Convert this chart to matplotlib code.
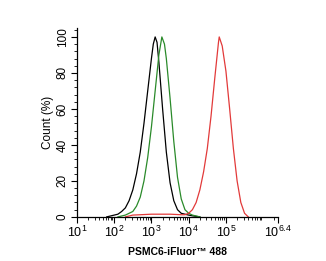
import matplotlib
matplotlib.use("Agg")
import matplotlib.pyplot as plt
from matplotlib.ticker import MultipleLocator, LogLocator

plt.rcParams['font.family'] = ['Liberation Sans', 'DejaVu Sans']
plt.rcParams['mathtext.default'] = 'regular'

# fluorescence (log10) vs count (%)
black_x = [1.8, 1.9, 2.0, 2.1, 2.2, 2.3, 2.4, 2.5, 2.6, 2.7, 2.8, 2.9, 3.0, 3.05, 3.1,
           3.15, 3.2, 3.3, 3.4, 3.5, 3.6, 3.7, 3.8, 3.9, 4.0, 4.1, 4.2, 4.3]
black_y = [0, 0.5, 1, 1.5, 3, 5, 9, 15, 24, 36, 52, 70, 88, 96, 100,
           97, 86, 60, 36, 19, 9, 4, 2, 1.5, 1, 0.6, 0.3, 0]

green_x = [2.1, 2.2, 2.3, 2.4, 2.5, 2.6, 2.7, 2.8, 2.9, 3.0, 3.1, 3.2, 3.28, 3.35,
           3.4, 3.5, 3.6, 3.7, 3.8, 3.9, 4.0, 4.1, 4.2, 4.3]
green_y = [0, 0.5, 1, 2, 3, 6, 11, 20, 33, 50, 70, 90, 100, 96,
           88, 66, 42, 22, 10, 4, 2, 1, 0.5, 0]

red_x = [2.3, 2.5, 3.0, 3.5, 3.8, 3.9, 4.0, 4.1, 4.2, 4.3, 4.4, 4.5, 4.6, 4.7,
         4.8, 4.82, 4.9, 5.0, 5.1, 5.2, 5.3, 5.4, 5.5, 5.6]
red_y = [0, 1, 1.5, 1.5, 1.2, 1.2, 2, 4, 8, 15, 25, 38, 56, 77,
         97, 100, 95, 81, 60, 38, 20, 8, 2, 0]

xtick_pow = [1, 2, 3, 4, 5, 6.4]
xtick_labels = ['$10^{1}$', '$10^{2}$', '$10^{3}$', '$10^{4}$', '$10^{5}$', '$10^{6.4}$']

fig = plt.figure(figsize=(3.26, 2.61), dpi=100)
ax = fig.add_axes([0.236, 0.169, 0.617, 0.724])

ax.plot([10 ** v for v in black_x], black_y, color='black', lw=0.9)
ax.plot([10 ** v for v in green_x], green_y, color='#2a8a2a', lw=0.9)
ax.plot([10 ** v for v in red_x], red_y, color='#e23a3a', lw=0.9)

ax.set_xscale('log')
ax.set_xlim(10, 10 ** 6.4)
ax.set_ylim(0, 105)
ax.set_xticks([10 ** p for p in xtick_pow])
ax.set_xticklabels(xtick_labels, fontsize=9)
ax.xaxis.set_minor_locator(LogLocator(base=10, subs=range(2, 10), numticks=20))
ax.xaxis.set_minor_formatter(plt.NullFormatter())
ax.set_yticks([0, 20, 40, 60, 80, 100])
ax.yaxis.set_minor_locator(MultipleLocator(4))
for lab in ax.get_yticklabels():
    lab.set_rotation(90)
    lab.set_va('center')
    lab.set_fontsize(8.5)

ax.tick_params(which='major', length=4, width=0.8, direction='out', pad=2)
ax.tick_params(which='minor', length=2, width=0.6, direction='out')
ax.spines['top'].set_visible(False)
ax.spines['right'].set_visible(False)
ax.spines['left'].set_linewidth(0.9)
ax.spines['bottom'].set_linewidth(0.9)

ax.set_ylabel('Count (%)', fontsize=8.5, labelpad=2)
ax.set_xlabel('PSMC6-iFluor™ 488', fontsize=7.5, fontweight='bold', labelpad=5)

fig.savefig('out.png', dpi=100)
